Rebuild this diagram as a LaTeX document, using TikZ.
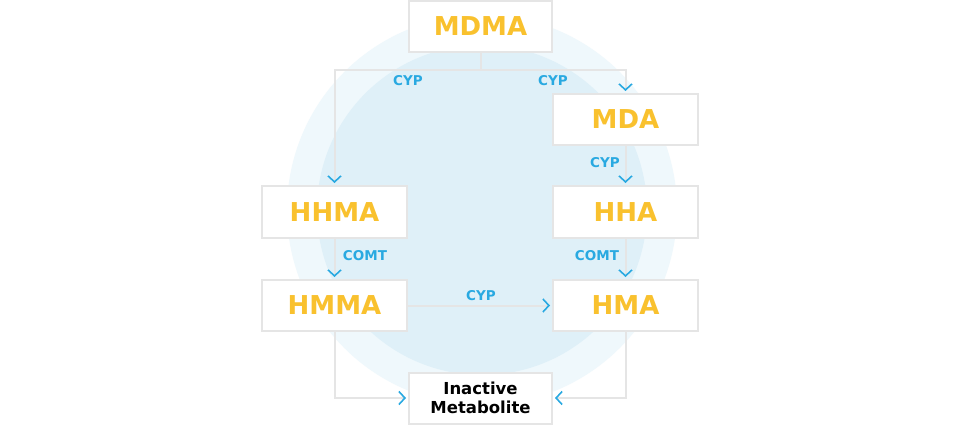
\documentclass[tikz,border=0pt]{standalone}
\usepackage{fontspec}
\setmainfont{DejaVu Sans}
\usetikzlibrary{arrows.meta}
\definecolor{outerc}{HTML}{EFF8FC}
\definecolor{innerc}{HTML}{DFF0F8}
\definecolor{boxline}{HTML}{E5E5E5}
\definecolor{chem}{HTML}{F9C12E}
\definecolor{enz}{HTML}{29A9E1}
\tikzset{
  chembox/.style={draw=boxline, line width=2pt, fill=white, minimum width=143pt, minimum height=51pt, inner sep=0pt,
    font=\fontsize{26}{30}\selectfont\bfseries, text=chem},
  conn/.style={draw=boxline, line width=2pt, shorten >=2pt,
    -{Straight Barb[length=6pt, width=13pt, line width=1.6pt, color=enz]}},
  plain/.style={draw=boxline, line width=2pt},
  enzlab/.style={font=\fontsize{13.5}{15}\selectfont\bfseries, text=enz, inner sep=0pt}
}
\begin{document}
\begin{tikzpicture}[x=1pt,y=-1pt]
\useasboundingbox (0,0) rectangle (960,425);
\fill[white] (0,0) rectangle (960,425);
\fill[outerc] (482,210) circle (195);
\fill[innerc] (482,210) circle (165);

\node[chembox] (MDMA) at (480.5,26.5) {MDMA};
\node[chembox, minimum width=145pt] (MDA) at (625.5,119.5) {MDA};
\node[chembox, minimum width=145pt, minimum height=52pt] (HHMA) at (334.5,212) {HHMA};
\node[chembox, minimum width=145pt, minimum height=52pt] (HHA) at (625.5,212) {HHA};
\node[chembox, minimum width=145pt] (HMMA) at (334.5,305.5) {HMMA};
\node[chembox, minimum width=145pt] (HMA) at (625.5,305.5) {HMA};
\node[chembox, text=black, font=\fontsize{16.5}{19}\selectfont\bfseries, align=center] (INA) at (480.5,398) {Inactive\\Metabolite};

\draw[plain] (MDMA.south) -- ++(0,17) coordinate (j);
\draw[conn] (j) -| (HHMA.north);
\draw[conn] (j) -| (MDA.north);
\draw[conn] (MDA) -- (HHA);
\draw[conn] (HHMA) -- (HMMA);
\draw[conn] (HHA) -- (HMA);
\draw[conn] (HMMA) -- (HMA);
\draw[conn] (HMMA.south) |- (INA.west);
\draw[conn] (HMA.south) |- (INA.east);

\node[enzlab] (l1) at (408,81) {CYP};
\node[enzlab] (l2) at (553,81) {CYP};
\node[enzlab] (l3) at (605,163) {CYP};
\node[enzlab] (l4) at (365,256) {COMT};
\node[enzlab] (l5) at (597,256) {COMT};
\node[enzlab] (l6) at (481,296) {CYP};
\end{tikzpicture}
\end{document}
